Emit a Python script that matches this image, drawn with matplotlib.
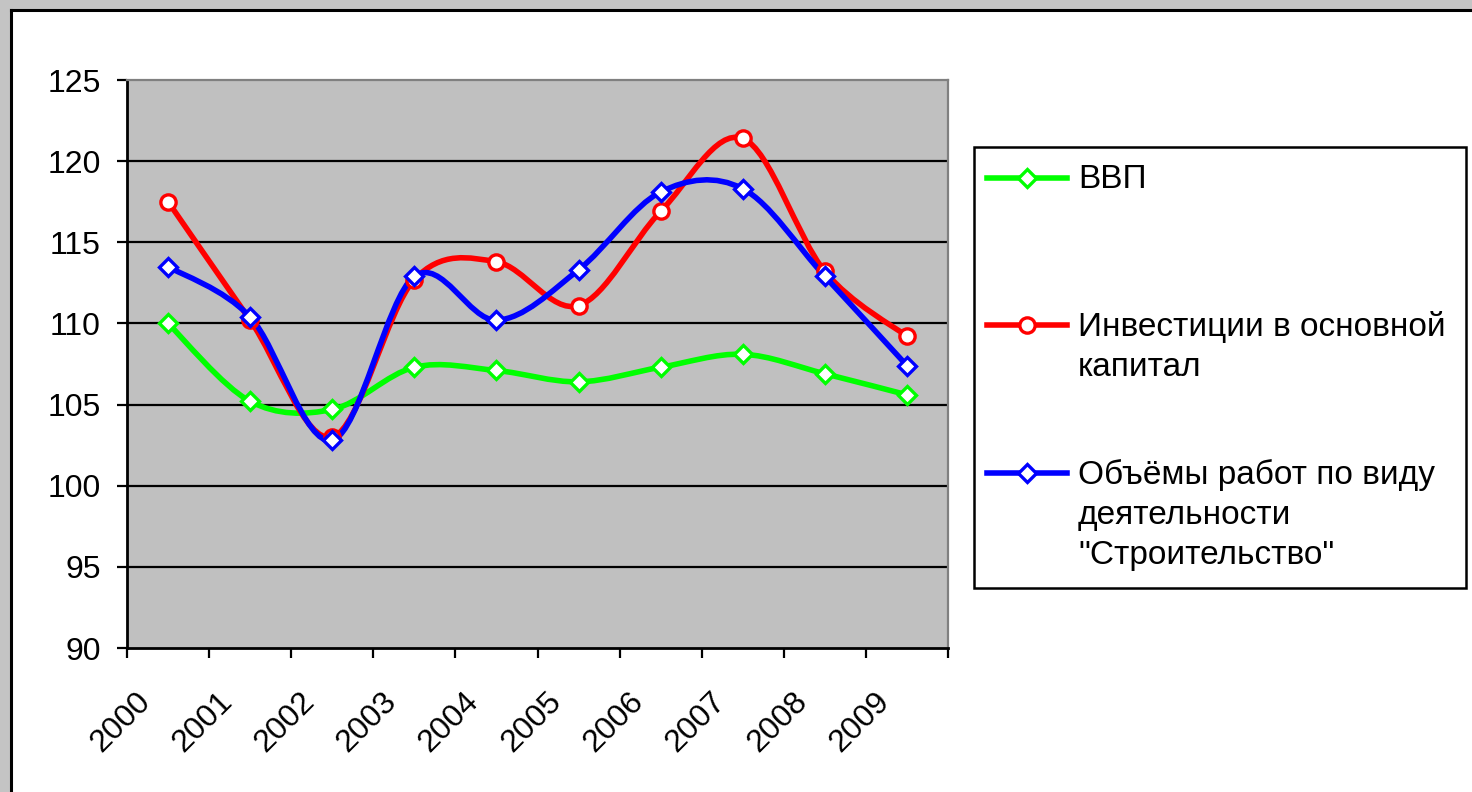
import matplotlib
matplotlib.use("Agg")
import matplotlib.pyplot as plt
import numpy as np
from matplotlib.path import Path
from matplotlib.patches import PathPatch, Rectangle
from matplotlib.lines import Line2D
import matplotlib.transforms as mtransforms

plt.rcParams['font.family'] = ['Liberation Sans', 'DejaVu Sans']

years = ['2000', '2001', '2002', '2003', '2004', '2005', '2006', '2007', '2008', '2009']
gdp = [110.0, 105.2, 104.7, 107.3, 107.1, 106.4, 107.3, 108.1, 106.9, 105.6]
invest = [117.5, 110.2, 103.0, 112.7, 113.8, 111.1, 116.9, 121.4, 113.2, 109.2]
constr = [113.5, 110.4, 102.8, 112.9, 110.2, 113.3, 118.1, 118.3, 112.9, 107.4]

labels = ['ВВП', 'Инвестиции в основной\nкапитал',
          'Объёмы работ по виду\nдеятельности\n"Строительство"']
colors = ['#00ff00', '#ff0000', '#0000ff']
markers = ['D', 'o', 'D']
msizes = [9.5, 11, 9.5]

W, H = 1472, 792
fig = plt.figure(figsize=(W / 100, H / 100), dpi=100)
fig.patch.set_facecolor('#c4c4c4')


def fx(x):
    return x / W


def fy(y):
    return 1 - y / H


# white chart area with black frame on top/left
fig.add_artist(Rectangle((fx(11), 0), 1, fy(10), transform=fig.transFigure,
                         facecolor='white', edgecolor='none', zorder=0))
fig.add_artist(Line2D([fx(10.5), fx(10.5)], [0, fy(9.5)], transform=fig.transFigure,
                      color='black', lw=2.2, zorder=1))
fig.add_artist(Line2D([fx(10.5), 1], [fy(9.5), fy(9.5)], transform=fig.transFigure,
                      color='black', lw=2.2, zorder=1))

L, R, T, B = 127, 948, 80, 648
ax = fig.add_axes([fx(L), fy(B), fx(R - L), (B - T) / H])
ax.set_facecolor('#c0c0c0')
ax.set_xlim(-0.5, 9.5)
ax.set_ylim(90, 125)


def smooth_path(xs, ys):
    P = np.column_stack([xs, ys]).astype(float)
    n = len(P)
    verts = [P[0]]
    codes = [Path.MOVETO]
    for i in range(n - 1):
        p0 = P[i - 1] if i > 0 else P[i]
        p1 = P[i]
        p2 = P[i + 1]
        p3 = P[i + 2] if i + 2 < n else P[i + 1]
        c1 = p1 + (p2 - p0) / 6.0
        c2 = p2 - (p3 - p1) / 6.0
        verts += [c1, c2, p2]
        codes += [Path.CURVE4] * 3
    return Path(verts, codes)


xs = np.arange(len(years))
for vals, c, m, ms in zip([gdp, invest, constr], colors, markers, msizes):
    patch = PathPatch(smooth_path(xs, vals), facecolor='none', edgecolor=c,
                      lw=4.0, zorder=3, capstyle='round', joinstyle='round')
    ax.add_patch(patch)
    ax.plot(xs, vals, linestyle='none', marker=m, ms=ms, mfc='white', mec=c,
            mew=2.4, zorder=4)

# gridlines
for v in [95, 100, 105, 110, 115, 120]:
    ax.axhline(v, color='black', lw=1.6, zorder=1)

for s in ['top', 'right']:
    ax.spines[s].set_color('#808080')
    ax.spines[s].set_linewidth(1.6)
for s in ['left', 'bottom']:
    ax.spines[s].set_color('black')
    ax.spines[s].set_linewidth(2)

ax.set_yticks([90, 95, 100, 105, 110, 115, 120, 125])
ax.tick_params(axis='y', direction='out', length=7, width=1.6, pad=12,
               labelsize=23, colors='black')

# x: major ticks at centers (labels), minor at boundaries (tick marks)
ax.set_xticks(xs)
ax.set_xticklabels(years)
ax.set_xticks(np.arange(-0.5, 10, 1.0), minor=True)
ax.tick_params(axis='x', which='major', length=0, pad=35, labelsize=23)
ax.tick_params(axis='x', which='minor', direction='out', length=7.5, width=1.6)
offset = mtransforms.ScaledTranslation(-22 / 100, 0, fig.dpi_scale_trans)
for lab in ax.get_xticklabels():
    lab.set_rotation(45)
    lab.set_rotation_mode('anchor')
    lab.set_ha('right')
    lab.set_va('center')
    lab.set_transform(lab.get_transform() + offset)

# legend box
lx0, ly0, lx1, ly1 = 974, 147, 1466, 588
fig.add_artist(Rectangle((fx(lx0), fy(ly1)), fx(lx1 - lx0), (ly1 - ly0) / H,
                         transform=fig.transFigure, facecolor='white',
                         edgecolor='black', lw=1.8, zorder=2))
entry_y = [178, 325, 473]
for lab, c, m, ms, ey in zip(labels, colors, markers, msizes, entry_y):
    fig.add_artist(Line2D([fx(987), fx(1067)], [fy(ey), fy(ey)],
                          transform=fig.transFigure, color=c, lw=4.0, zorder=3))
    fig.add_artist(Line2D([fx(1027)], [fy(ey)], transform=fig.transFigure,
                          linestyle='none', marker=m, ms=ms, mfc='white', mec=c,
                          mew=2.4, zorder=4))
    fig.text(fx(1078), fy(ey - 14), lab, fontsize=24, va='top', ha='left',
             linespacing=1.38, zorder=5)

fig.savefig('out.png', dpi=100, facecolor=fig.get_facecolor())
